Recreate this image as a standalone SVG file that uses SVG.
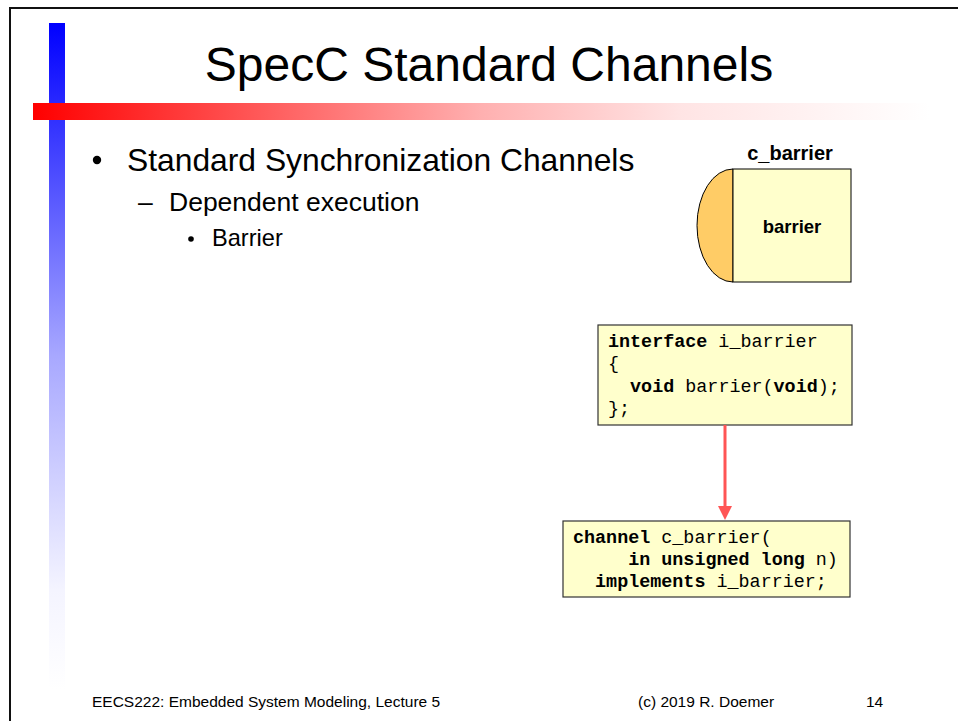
<svg xmlns="http://www.w3.org/2000/svg" width="958" height="721" viewBox="0 0 958 721">
  <style>
    .sans { font-family: "Liberation Sans", Arial, sans-serif; fill: #000; }
    .mono { font-family: "Liberation Mono", "Courier New", monospace; font-size: 18.4px; fill: #000; white-space: pre; }
    .kw { font-weight: bold; }
    .codebox { fill: #FFFFCC; stroke: #333; stroke-width: 1.2; }
    .foot { font-size: 15.5px; }
  </style>
  <defs>
    <linearGradient id="blueBar" x1="0" y1="23" x2="0" y2="690" gradientUnits="userSpaceOnUse">
      <stop offset="0" stop-color="#0000FF"/>
      <stop offset="0.5" stop-color="#A8A8FF"/>
      <stop offset="0.85" stop-color="#F4F4FF"/>
      <stop offset="1" stop-color="#FFFFFF"/>
    </linearGradient>
    <linearGradient id="redBar" x1="33" y1="0" x2="930" y2="0" gradientUnits="userSpaceOnUse">
      <stop offset="0" stop-color="#FF0000"/>
      <stop offset="0.5" stop-color="#FFB0B0"/>
      <stop offset="0.72" stop-color="#FFE4E4"/>
      <stop offset="1" stop-color="#FFFFFF"/>
    </linearGradient>
    <marker id="arrowHead" markerWidth="14" markerHeight="14" refX="7" refY="13" orient="auto" markerUnits="userSpaceOnUse" viewBox="0 0 14 14">
      <path d="M0,0 L14,0 L7,14 Z" fill="#FF5555" transform="rotate(-90 7 7)"/>
    </marker>
  </defs>

  <!-- slide frame -->
  <rect width="958" height="721" fill="#FFFFFF"/>
  <path d="M10,721 V8 H958" fill="none" stroke="#111" stroke-width="2"/>

  <!-- decorative bars -->
  <rect x="49" y="23" width="16" height="667" fill="url(#blueBar)"/>
  <rect x="33" y="103" width="897" height="17" fill="url(#redBar)"/>

  <!-- title -->
  <text class="sans" x="489" y="81" font-size="48" text-anchor="middle">SpecC Standard Channels</text>

  <!-- bullet list -->
  <g id="bullets" class="sans">
    <circle cx="97" cy="160" r="4.2"/>
    <text x="127" y="171" font-size="31.8">Standard Synchronization Channels</text>
    <text x="138" y="211" font-size="26.5">–</text>
    <text x="169" y="211" font-size="26.5">Dependent execution</text>
    <circle cx="191" cy="239" r="2.8"/>
    <text x="212" y="246" font-size="23.6">Barrier</text>
  </g>

  <!-- channel symbol -->
  <g id="c_barrier_symbol">
    <text class="sans kw" x="790" y="160" font-size="20" text-anchor="middle">c_barrier</text>
    <path d="M733,169 A36,56.5 0 0 0 733,282 Z" fill="#FFCC66" stroke="#000" stroke-width="1"/>
    <rect x="733" y="169" width="118" height="113" fill="#FFFFCC" stroke="#000" stroke-width="1"/>
    <text class="sans kw" x="792" y="233" font-size="18.5" text-anchor="middle">barrier</text>
  </g>

  <!-- interface declaration -->
  <g id="i_barrier">
    <rect class="codebox" x="598" y="325" width="254" height="100"/>
    <text class="mono" x="608" y="347"><tspan class="kw">interface</tspan> i_barrier</text>
    <text class="mono" x="608" y="369">{</text>
    <text class="mono" x="608" y="392">  <tspan class="kw">void</tspan> barrier(<tspan class="kw">void</tspan>);</text>
    <text class="mono" x="608" y="414">};</text>
  </g>

  <!-- channel declaration -->
  <g id="c_barrier_decl">
    <rect class="codebox" x="563" y="521" width="287" height="76"/>
    <text class="mono" x="573" y="543"><tspan class="kw">channel</tspan> c_barrier(</text>
    <text class="mono" x="573" y="565">     <tspan class="kw">in unsigned long</tspan> n)</text>
    <text class="mono" x="573" y="587">  <tspan class="kw">implements</tspan> i_barrier;</text>
  </g>

  <!-- connectors -->
  <g id="connectors">
    <line x1="725" y1="425" x2="725" y2="506" stroke="#FF5555" stroke-width="3"/>
    <path d="M718,506 L732,506 L725,520 Z" fill="#FF5555"/>
  </g>

  <!-- footer -->
  <g id="footer" class="sans foot">
    <text x="92" y="707">EECS222: Embedded System Modeling, Lecture 5</text>
    <text x="638" y="707">(c) 2019 R. Doemer</text>
    <text x="866" y="707">14</text>
  </g>
</svg>
